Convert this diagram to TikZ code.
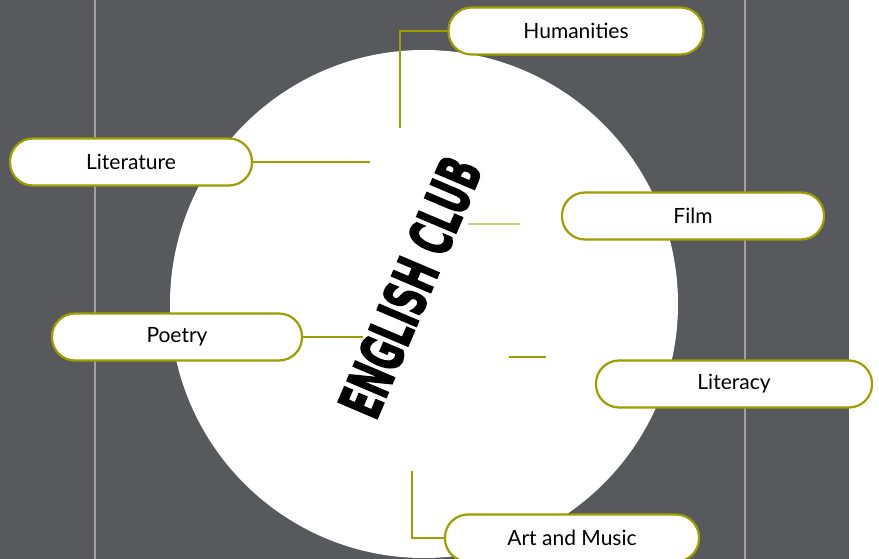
\documentclass[tikz,border=0pt]{standalone}
\usepackage{fontspec}
\usepackage{graphicx}
\setmainfont{Lato}
\newfontfamily\clubfont[BoldFeatures={FakeBold=3}]{DejaVu Sans}
\definecolor{slate}{RGB}{87,89,93}
\definecolor{rail}{RGB}{166,160,155}
\definecolor{olivine}{RGB}{158,158,0}
\definecolor{paleolive}{RGB}{208,208,120}
\tikzset{
  topic/.style={draw=olivine,line width=2.2pt,fill=white,rounded corners=23pt,
    minimum height=47pt,inner sep=0pt,font=\fontsize{21}{24}\selectfont},
  link/.style={draw=olivine,line width=1.8pt}
}
\begin{document}
\begin{tikzpicture}[x=1pt,y=-1pt]
      \useasboundingbox (0,0) rectangle (879,559);
      \fill[slate] (0,0) rectangle (849,559);
      \draw[rail,line width=2pt] (95,0) -- (95,559);
      \draw[rail,line width=2pt] (745,0) -- (745,559);
      \fill[white] (424,304) circle (254pt);
      \node[rotate=67,font=\clubfont\bfseries\fontsize{58}{58}\selectfont] (club) at (410,287) {\scalebox{0.58}[1]{ENGLISH CLUB}};
      \node[topic,minimum width=255pt] (hum) at (576,31) {Humanities};
      \node[topic,minimum width=242pt] (lit) at (131,162) {Literature};
      \node[topic,minimum width=262pt] (film) at (693,216) {Film};
      \node[topic,minimum width=250pt] (poe) at (177,337) {Poetry};
      \node[topic,minimum width=276pt] (lcy) at (734,384) {Literacy};
      \node[topic,minimum width=254pt] (art) at (572,538) {Art and Music};
      \coordinate (humend) at (400,128);
      \coordinate (litend) at (370,162);
      \coordinate (poeend) at (363,337);
      \coordinate (artend) at (412,471);
      \coordinate (filma) at (468,224);
      \coordinate (filmb) at (520,224);
      \coordinate (lcya) at (509,357);
      \coordinate (lcyb) at (546,357);
      \draw[link] (hum.west) -| (humend);
      \draw[link] (lit.east) -- (litend);
      \draw[link] (poe.east) -- (poeend);
      \draw[link] (art.west) -| (artend);
      \draw[link,paleolive] (filma) -- (filmb);
      \draw[link] (lcya) -- (lcyb);
\end{tikzpicture}
\end{document}
